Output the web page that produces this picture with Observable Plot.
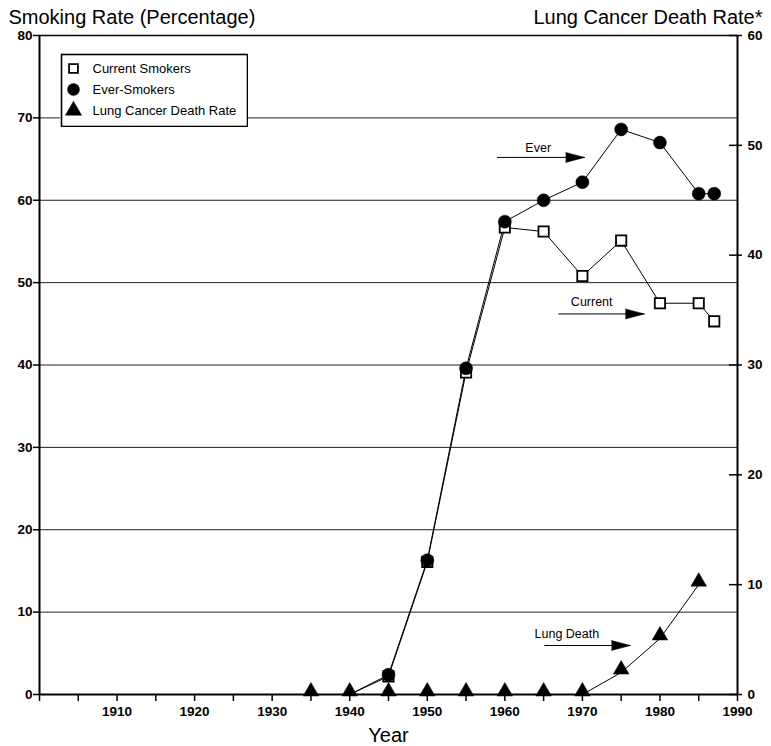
<!DOCTYPE html>
<html><head><meta charset="utf-8">
<script src="https://cdn.jsdelivr.net/npm/d3@7"></script>
<script src="https://cdn.jsdelivr.net/npm/@observablehq/plot@0.6"></script>
<style>
body{margin:0;background:#fff;}
#wrap{position:relative;width:771px;height:746px;}
#legend{position:absolute;left:60px;top:53px;}
</style></head><body><div id="wrap"></div>
<script>
// ---- data ----
const smokerYears    = [1940, 1945, 1950, 1955, 1960, 1965, 1970, 1975, 1980, 1985, 1987];
const currentSmokers = [0,    2.2,  16.1, 39.1, 56.7, 56.2, 50.8, 55.1, 47.5, 47.5, 45.3];
const everSmokers    = [0,    2.4,  16.3, 39.6, 57.4, 60.0, 62.2, 68.6, 67.0, 60.8, 60.8];

const lungYears = [1935, 1940, 1945, 1950, 1955, 1960, 1965, 1970, 1975, 1980, 1985];
const lungRate  = [0,    0,    0,    0,    0,    0,    0,    0,    2.0,  5.1,  10.0];

const leftTicks  = [0, 10, 20, 30, 40, 50, 60, 70, 80];
const gridValues = [10, 20, 30, 40, 50, 60, 70];
const rightTicks = [0, 10, 20, 30, 40, 50, 60];
const xTicks = [1900, 1905, 1910, 1915, 1920, 1925, 1930, 1935, 1940, 1945, 1950, 1955, 1960, 1965, 1970, 1975, 1980, 1985, 1990];
const xTickLabels = ["", "", "1910", "", "1920", "", "1930", "", "1940", "", "1950", "", "1960", "", "1970", "", "1980", "", "1990"];

const annotLabels = ["Ever", "Current", "Lung Death"];
const annotLabelX = [1964.3, 1971.2, 1968.0];
const annotLabelY = [66.3, 47.6, 7.4];
const arrowX1 = [1959.0, 1966.9, 1965.1];
const arrowX2 = [1970.3, 1978.0, 1976.2];
const arrowY  = [65.2, 46.2, 5.95];

const legendLabels  = ["Current Smokers", "Ever-Smokers", "Lung Cancer Death Rate"];
const legendSymbols = ["square", "circle", "triangle"];
const legendFills   = ["white", "black", "black"];

const leftTitle = "Smoking Rate (Percentage)";
const rightTitle = "Lung Cancer Death Rate*";
const xTitle = "Year";

// ---- derived tables ----
const font = '"Liberation Sans", Arial, Helvetica, sans-serif';
const toLeft = v => v * 80 / 60;
const smokers = smokerYears.map((year, i) => ({year, current: currentSmokers[i], ever: everSmokers[i]}));
const smokerMarks = smokers.filter(d => d.year >= 1945);
const lung = lungYears.map((year, i) => ({year, y: toLeft(lungRate[i])}));
const annots = annotLabels.map((label, i) => ({label, lx: annotLabelX[i], ly: annotLabelY[i], x1: arrowX1[i], x2: arrowX2[i], y: arrowY[i]}));
const xLabelMap = new Map(xTicks.map((t, i) => [t, xTickLabels[i]]));

const tickFont = {fontSize: 13.5, fontWeight: "bold"};

const chart = Plot.plot({
  width: 771, height: 746,
  marginLeft: 39, marginRight: 34, marginTop: 35, marginBottom: 52,
  style: {fontFamily: font, fontSize: "14px", background: "white", color: "black", overflow: "visible"},
  x: {domain: [1900, 1990]},
  y: {domain: [0, 80]},
  marks: [
    Plot.gridY(gridValues, {stroke: "#222", strokeOpacity: 1, strokeWidth: 1}),
    Plot.ruleY([80], {stroke: "black", strokeWidth: 1.5}),
    Plot.axisY(leftTicks, {anchor: "left", tickSize: 6, tickPadding: 1, label: null, strokeWidth: 1.5, ...tickFont}),
    Plot.axisY(rightTicks.map(toLeft), {anchor: "right", tickSize: 4, tickPadding: 6, label: null, strokeWidth: 1.5, ...tickFont,
      tickFormat: d => String(Math.round(d * 60 / 80))}),
    Plot.axisY(rightTicks.map(toLeft), {anchor: "right", tickSize: 9, dx: -9, label: null, strokeWidth: 1.5,
      tickFormat: () => ""}),
    Plot.axisX(xTicks, {anchor: "bottom", tickSize: 7, tickPadding: 5, label: null, strokeWidth: 1.5, ...tickFont,
      tickFormat: d => xLabelMap.get(d)}),
    Plot.ruleX([1900], {stroke: "black", strokeWidth: 2}),
    Plot.ruleX([1990], {stroke: "black", strokeWidth: 2}),
    Plot.ruleY([0], {stroke: "black", strokeWidth: 2}),
    // series lines
    Plot.line(lung, {x: "year", y: "y", stroke: "black", strokeWidth: 1}),
    Plot.line(smokers, {x: "year", y: "current", stroke: "black", strokeWidth: 1}),
    Plot.line(smokers, {x: "year", y: "ever", stroke: "black", strokeWidth: 1}),
    // markers
    Plot.dot(lung, {x: "year", y: "y", dy: -3, symbol: "triangle", r: 5.8, fill: "black", stroke: "black", strokeWidth: 0.5}),
    Plot.dot(smokerMarks, {x: "year", y: "current", symbol: "square", r: 5.8, fill: "white", stroke: "black", strokeWidth: 1.8}),
    Plot.dot(smokerMarks, {x: "year", y: "ever", symbol: "circle", r: 6.5, fill: "black", stroke: "black", strokeWidth: 0.5}),
    // annotations
    Plot.link(annots, {x1: "x1", x2: "x2", y1: "y", y2: "y", stroke: "black", strokeWidth: 1}),
    Plot.vector(annots, {x: "x2", y: "y", rotate: 90, length: 19, r: 5, shape: "spike", anchor: "end", fill: "black", stroke: "black", strokeWidth: 0.5}),
    Plot.text(annots, {x: "lx", y: "ly", text: "label", fontSize: 12.5, fill: "black"}),
    // titles
    Plot.text([leftTitle], {text: d => d, frameAnchor: "top-left", dx: -31, dy: -12, lineAnchor: "bottom", textAnchor: "start", fontSize: 20, fill: "black"}),
    Plot.text([rightTitle], {text: d => d, frameAnchor: "top-right", dx: 25, dy: -12, lineAnchor: "bottom", textAnchor: "end", fontSize: 20, fill: "black"}),
    Plot.text([xTitle], {text: d => d, frameAnchor: "bottom", dy: 47, lineAnchor: "bottom", textAnchor: "middle", fontSize: 20, fill: "black"})
  ]
});

const legend = Plot.plot({
  width: 188, height: 74, margin: 0,
  style: {fontFamily: font, background: "white", color: "black"},
  y: {type: "point", domain: legendLabels, range: [15, 57], padding: 0, axis: null},
  marks: [
    Plot.frame({stroke: "black", strokeWidth: 1.6, inset: 1}),
    ...legendLabels.map((label, i) => Plot.dot([label], {y: d => d, frameAnchor: "left", dx: 13,
      symbol: legendSymbols[i], r: legendSymbols[i] === "square" ? 5 : 6, fill: legendFills[i], stroke: "black", strokeWidth: legendSymbols[i] === "square" ? 1.8 : 0.5})),
    Plot.text(legendLabels, {y: d => d, text: d => d, frameAnchor: "left", dx: 32, textAnchor: "start", fontSize: 13, fill: "black"})
  ]
});
legend.id = "legend";

const wrap = document.getElementById("wrap");
wrap.appendChild(chart);
wrap.appendChild(legend);
</script>
</body></html>
